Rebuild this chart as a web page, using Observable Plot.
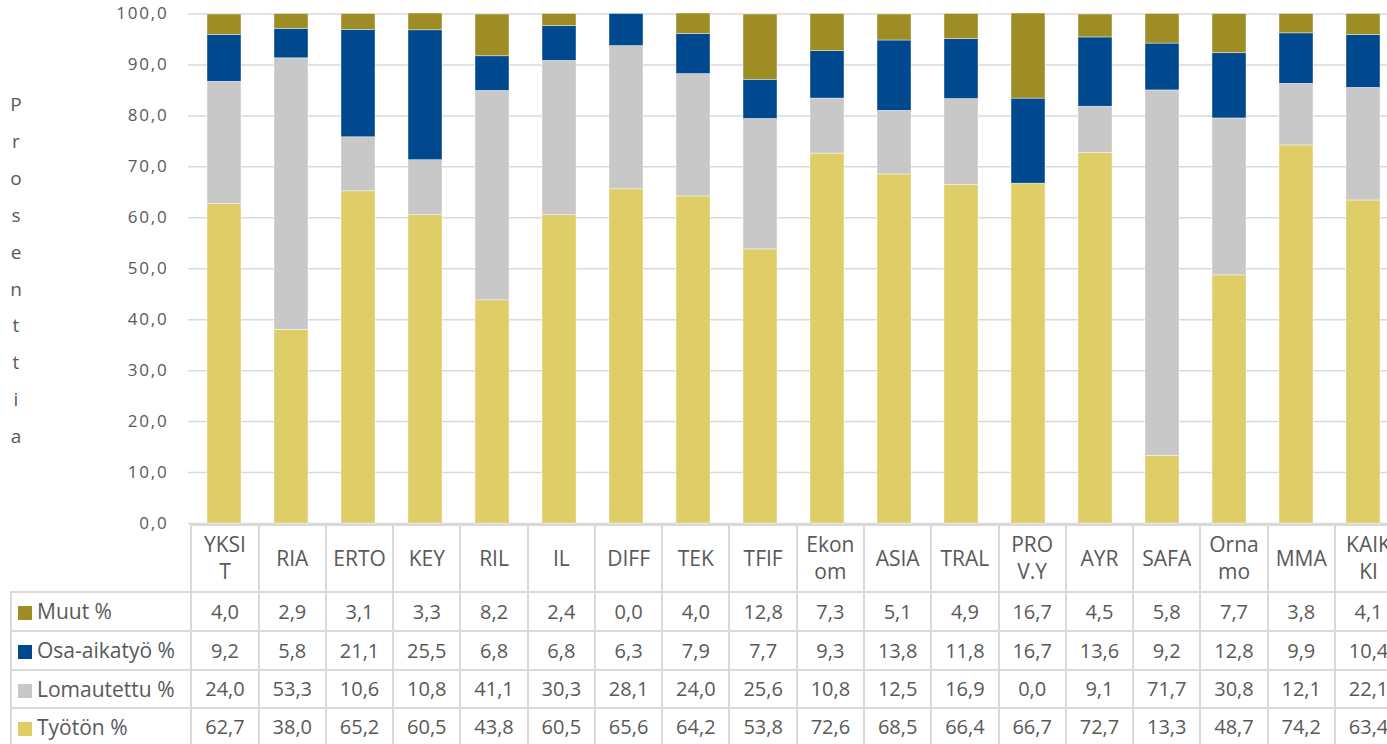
<!DOCTYPE html>
<html>
<head>
<meta charset="utf-8">
<script src="https://cdn.jsdelivr.net/npm/d3@7"></script>
<script src="https://cdn.jsdelivr.net/npm/@observablehq/plot@0.6"></script>
<style>
  html, body { margin: 0; padding: 0; background: #fff; overflow: hidden; }
  body { font-family: "Open Sans", "DejaVu Sans", sans-serif; color: #595959; }
  #wrap { position: relative; width: 1399px; height: 744px; }
  #ylabel { position: absolute; left: 6px; top: 86px; width: 20px; text-align: center;
            font-size: 19px; line-height: 36.9px; color: #595959; }
  #chart { position: absolute; left: 0; top: 0; }
  #chart g[aria-label="y-axis tick label"] text { letter-spacing: 1.8px; }
  table.dt { position: absolute; border-collapse: collapse; table-layout: fixed; font-size: 21px; color: #595959; }
  table.dt td { border: 2px solid #d9d9d9; text-align: center; padding: 0; white-space: nowrap; overflow: visible; }
  table.dt td.num { font-size: 20px; }
  table.dt td.blank { border: none; border-bottom: 2px solid #d9d9d9; }
  table.dt td.hdr { line-height: 27px; white-space: pre; }
  table.dt td.lab { text-align: left; padding-left: 6px; }
  .sw { display: inline-block; width: 14px; height: 14px; margin-right: 5px; vertical-align: -1px; }
</style>
</head>
<body>
<div id="wrap">
  <div id="chart"></div>
  <div id="ylabel"></div>
</div>
<script>
const categories = ["YKSIT","RIA","ERTO","KEY","RIL","IL","DIFF","TEK","TFIF","Ekonom","ASIA","TRAL","PROV.Y","AYR","SAFA","Ornamo","MMA","KAIKKI"];
const headerLabels = ["YKSI\nT","RIA","ERTO","KEY","RIL","IL","DIFF","TEK","TFIF","Ekon\nom","ASIA","TRAL","PRO\nV.Y","AYR","SAFA","Orna\nmo","MMA","KAIK\nKI"];
const seriesNames = ["Työtön %","Lomautettu %","Osa-aikatyö %","Muut %"];
const seriesColors = ["#dfcd68","#c8c8c8","#00498f","#9e8c24"];
const tyoton     = [62.7,38.0,65.2,60.5,43.8,60.5,65.6,64.2,53.8,72.6,68.5,66.4,66.7,72.7,13.3,48.7,74.2,63.4];
const lomautettu = [24.0,53.3,10.6,10.8,41.1,30.3,28.1,24.0,25.6,10.8,12.5,16.9,0.0,9.1,71.7,30.8,12.1,22.1];
const osaaika    = [9.2,5.8,21.1,25.5,6.8,6.8,6.3,7.9,7.7,9.3,13.8,11.8,16.7,13.6,9.2,12.8,9.9,10.4];
const muut       = [4.0,2.9,3.1,3.3,8.2,2.4,0.0,4.0,12.8,7.3,5.1,4.9,16.7,4.5,5.8,7.7,3.8,4.1];
const yTicks = [0,10,20,30,40,50,60,70,80,90,100];
const yLabel = "Prosenttia";

const seriesValues = [tyoton, lomautettu, osaaika, muut];
const data = [];
seriesNames.forEach((s, si) => categories.forEach((c, ci) => data.push({cat: c, series: s, value: seriesValues[si][ci]})));

const fmt = v => v.toFixed(1).replace(".", ",");

const plot = Plot.plot({
  width: 1399,
  height: 545,
  marginLeft: 188,
  marginRight: 0,
  marginTop: 13.5,
  marginBottom: 22,
  style: {fontFamily: '"Open Sans", sans-serif', fontSize: "17px", color: "#595959", background: "transparent", overflow: "visible"},
  x: {domain: categories, paddingInner: 0.49, paddingOuter: 0.245, axis: null},
  y: {domain: [0, 100], ticks: yTicks, tickFormat: fmt, tickSize: 0, tickPadding: 22, label: null, axis: null},
  color: {domain: seriesNames, range: seriesColors},
  marks: [
    Plot.ruleY(yTicks, {stroke: "#d9d9d9", strokeWidth: 1.5}),
    Plot.barY(data, {x: "cat", y: "value", fill: "series", stroke: "#ffffff", strokeWidth: 0.6, strokeOpacity: 0.7}),
    Plot.axisY({ticks: yTicks, tickFormat: fmt, tickSize: 0, tickPadding: 20, fontSize: 17, label: null})
  ]
});
document.getElementById("chart").appendChild(plot);

document.getElementById("ylabel").innerHTML = yLabel.split("").join("<br>");

// Data table aligned with the x band scale
const xs = plot.scale("x");
const step = (xs.range[1] - xs.range[0]) / categories.length;
const colLeft = c => xs.apply(c) - (step - xs.bandwidth) / 2;
const tableLeft = 10;
const firstColW = colLeft(categories[0]) - tableLeft;
const y0 = plot.scale("y").apply(0);

const table = document.createElement("table");
table.className = "dt";
table.style.left = tableLeft + "px";
table.style.top = (y0 + 0.5) + "px";
table.style.width = (firstColW + step * categories.length) + "px";
const cg = document.createElement("colgroup");
const c0 = document.createElement("col"); c0.style.width = firstColW + "px"; cg.appendChild(c0);
categories.forEach(() => { const col = document.createElement("col"); col.style.width = step + "px"; cg.appendChild(col); });
table.appendChild(cg);

const hr = document.createElement("tr");
hr.style.height = "67px";
const blank = document.createElement("td"); blank.className = "blank"; hr.appendChild(blank);
headerLabels.forEach(h => { const td = document.createElement("td"); td.className = "hdr"; td.textContent = h; hr.appendChild(td); });
table.appendChild(hr);

const rowOrder = [3, 2, 1, 0];
const rowHeights = [39, 39, 38, 38];
rowOrder.forEach((si, ri) => {
  const tr = document.createElement("tr");
  tr.style.height = rowHeights[ri] + "px";
  const lab = document.createElement("td");
  lab.className = "lab";
  lab.innerHTML = `<span class="sw" style="background:${seriesColors[si]}"></span>${seriesNames[si]}`;
  tr.appendChild(lab);
  seriesValues[si].forEach(v => { const td = document.createElement("td"); td.className = "num"; td.textContent = fmt(v); tr.appendChild(td); });
  table.appendChild(tr);
});
document.getElementById("wrap").appendChild(table);
</script>
</body>
</html>
